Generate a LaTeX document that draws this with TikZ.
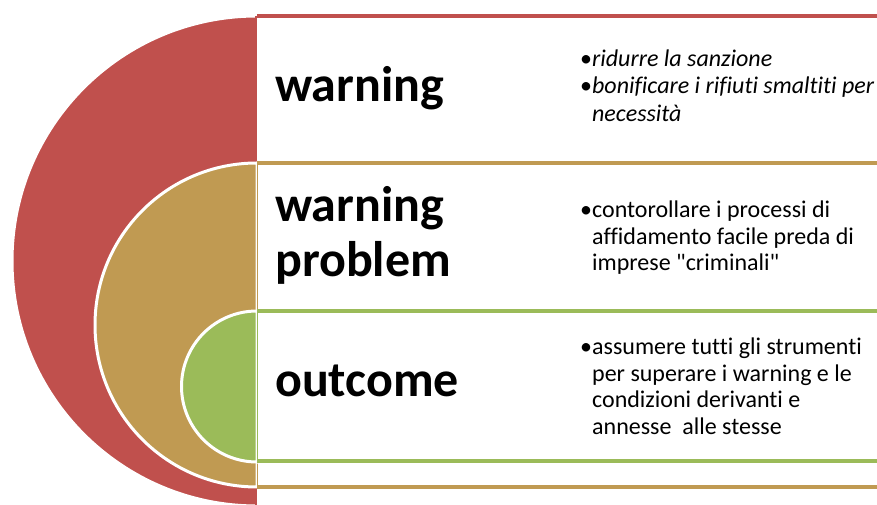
\documentclass[tikz,border=0pt]{standalone}
\usepackage{fontspec}
\setmainfont{Carlito}[Ligatures={NoCommon}]
\usetikzlibrary{positioning}
\definecolor{ringred}{RGB}{192,80,77}
\definecolor{ringtan}{RGB}{192,154,82}
\definecolor{ringgreen}{RGB}{155,187,89}

\begin{document}
\begin{tikzpicture}[x=1pt,y=1pt,
  ring/.style={draw=white, line width=3pt},
  band/.style={line width=4pt},
  bandside/.style={line width=1.2pt},
  stage/.style={anchor=base west, inner sep=0pt, font=\fontsize{50}{55}\selectfont\bfseries},
  notes/.style={anchor=base west, inner sep=0pt, font=\fontsize{24}{26.5}\selectfont}]
\def\cx{257}
\useasboundingbox (0,0) rectangle (877,505);

% Outer level: warning
\filldraw[ring, fill=ringred] (\cx,489) arc[start angle=90, end angle=270, radius=245pt] -- cycle;
\fill[white] (\cx,489) rectangle (895,-10);
\draw[band, draw=ringred] (\cx,489) -- (895,489);
\draw[bandside, draw=ringred] (\cx-1,489) -- (\cx-1,-10);

% Middle level: warning problem
\filldraw[ring, fill=ringtan] (\cx,342) arc[start angle=90, end angle=270, radius=162pt] -- cycle;
\fill[white] (\cx,342) rectangle (895,18);
\draw[band, draw=ringtan] (\cx,342) -- (895,342) (\cx,18) -- (895,18);
\draw[bandside, draw=ringtan] (\cx+0.5,342) -- (\cx+0.5,18);

% Inner level: outcome
\filldraw[ring, fill=ringgreen] (\cx,194) arc[start angle=90, end angle=270, radius=75.5pt] -- cycle;
\fill[white] (\cx,194) rectangle (895,44);
\draw[band, draw=ringgreen] (\cx,194) -- (895,194) (\cx,44) -- (895,44);
\draw[bandside, draw=ringgreen] (\cx+0.5,194) -- (\cx+0.5,44);

% Level titles
\node[stage] (warn) at (275,403) {warning};
\node[stage] (prob) at (275,283) {\begin{tabular}[t]{@{}l@{}}warning\\problem\end{tabular}};
\node[stage] (outc) at (275,108) {outcome};

% Notes on the right
\node[notes] (warnnotes) at (580,438) {\begin{tabular}[t]{@{}l@{}l@{}}
  \textbullet & \textit{ridurre la sanzione}\\
  \textbullet & \textit{bonificare i rifiuti smaltiti per}\\[1.8pt]
  & \textit{necessità}\end{tabular}};
\node[notes] (probnotes) at (580,287) {\begin{tabular}[t]{@{}l@{}l@{}}
  \textbullet & contorollare i processi di\\
  & affidamento facile preda di\\
  & imprese \textquotedbl criminali\textquotedbl\end{tabular}};
\node[notes] (outcnotes) at (580,150) {\begin{tabular}[t]{@{}l@{}l@{}}
  \textbullet & assumere tutti gli strumenti\\
  & per superare i warning e le\\
  & condizioni derivanti e\\
  & annesse \ alle stesse\end{tabular}};

\end{tikzpicture}
\end{document}
